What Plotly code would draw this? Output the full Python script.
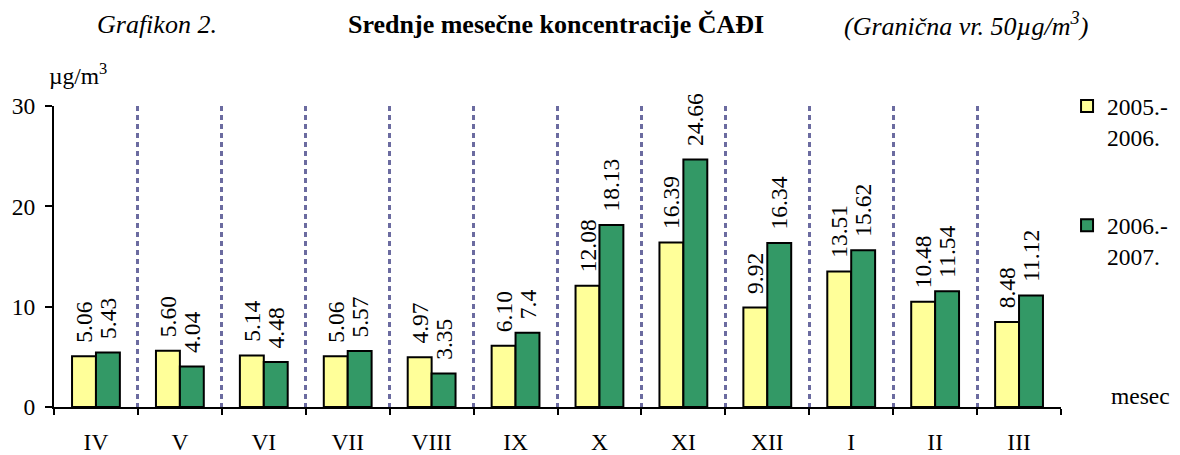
import plotly.graph_objects as go

# Months of the heating season, April through March
months = ["IV", "V", "VI", "VII", "VIII", "IX", "X", "XI", "XII", "I", "II", "III"]

# Monthly mean soot concentrations (µg/m³), as printed above the bars
labels_2005_2006 = ["5.06", "5.60", "5.14", "5.06", "4.97", "6.10", "12.08", "16.39", "9.92", "13.51", "10.48", "8.48"]
labels_2006_2007 = ["5.43", "4.04", "4.48", "5.57", "3.35", "7.4", "18.13", "24.66", "16.34", "15.62", "11.54", "11.12"]

values_2005_2006 = [float(v) for v in labels_2005_2006]
values_2006_2007 = [float(v) for v in labels_2006_2007]

series_names = ["2005.-<br>2006.", "2006.-<br>2007."]
y_ticks = [0, 10, 20, 30]

FONT = "'Liberation Serif', 'Times New Roman', Times, serif"
FS = 23.5      # axis, legend and value labels
FS_HEAD = 26   # heading line
LIFT = "\u00a0\u2009"  # small lead-in so the rotated value sits a little above its bar

fig = go.Figure()
for name, vals, txt, color, grp in [
    (series_names[0], values_2005_2006, labels_2005_2006, "#FFFF99", "a"),
    (series_names[1], values_2006_2007, labels_2006_2007, "#339966", "b"),
]:
    fig.add_trace(go.Bar(
        x=months, y=vals, name=name, legendgroup=grp,
        marker=dict(color=color, line=dict(color="black", width=2)),
        text=[LIFT + t for t in txt], textposition="outside", textangle=-90,
        textfont=dict(family=FONT, size=FS, color="black"),
        constraintext="none", cliponaxis=False,
    ))

fig.update_layout(
    width=1180, height=455,
    margin=dict(l=54, r=119, t=106, b=48, autoexpand=False),
    paper_bgcolor="white", plot_bgcolor="white",
    barmode="group", bargap=0.43, bargroupgap=0,
    font=dict(family=FONT, size=FS, color="black"),
    legend=dict(
        x=1.006, y=1.072, xanchor="left", yanchor="top",
        valign="top", tracegroupgap=55, itemwidth=30,
        font=dict(family=FONT, size=FS, color="black"),
        bgcolor="rgba(0,0,0,0)",
    ),
    xaxis=dict(
        type="category", tickson="boundaries", automargin=False,
        showline=True, linecolor="black", linewidth=2,
        ticks="outside", ticklen=6, tickwidth=2, tickcolor="black",
        showgrid=True, gridcolor="#6B6BA0", gridwidth=3, griddash="5px,4px",
        ticklabelstandoff=13,
        tickfont=dict(family=FONT, size=FS, color="black"),
        range=[-0.5, len(months) - 0.5], zeroline=False,
    ),
    yaxis=dict(
        range=[0, 30], tickvals=y_ticks, automargin=False,
        showline=True, linecolor="black", linewidth=2,
        ticks="outside", ticklen=7, tickwidth=2, tickcolor="black",
        showgrid=False, zeroline=False, ticklabelstandoff=5,
        tickfont=dict(family=FONT, size=FS, color="black"),
    ),
)

def py(px):
    # pixel row -> paper y (plot area spans rows 106..407)
    return (407 - px) / 301

def px_x(px):
    # pixel column -> paper x (plot area spans columns 54..1061)
    return (px - 54) / 1007

head = dict(xref="paper", yref="paper", xanchor="center", yanchor="middle",
            showarrow=False)
fig.add_annotation(text="<i>Grafikon 2.</i>", x=px_x(157), y=py(24),
                   font=dict(family=FONT, size=FS_HEAD), **head)
fig.add_annotation(text="<b>Srednje mesečne koncentracije ČAĐI</b>", x=px_x(556), y=py(24),
                   font=dict(family=FONT, size=FS_HEAD), **head)
fig.add_annotation(text="<i>(Granična vr. 50µg/m<sup>3</sup>)</i>", x=px_x(966), y=py(24),
                   font=dict(family=FONT, size=FS_HEAD), **head)
fig.add_annotation(text="µg/m<sup>3</sup>", xref="paper", yref="paper",
                   x=px_x(47), y=py(74), xanchor="left", yanchor="middle", showarrow=False,
                   font=dict(family=FONT, size=FS))
fig.add_annotation(text="mesec", x=px_x(1140), y=py(396),
                   font=dict(family=FONT, size=FS), **head)

fig.write_html("out.html")
